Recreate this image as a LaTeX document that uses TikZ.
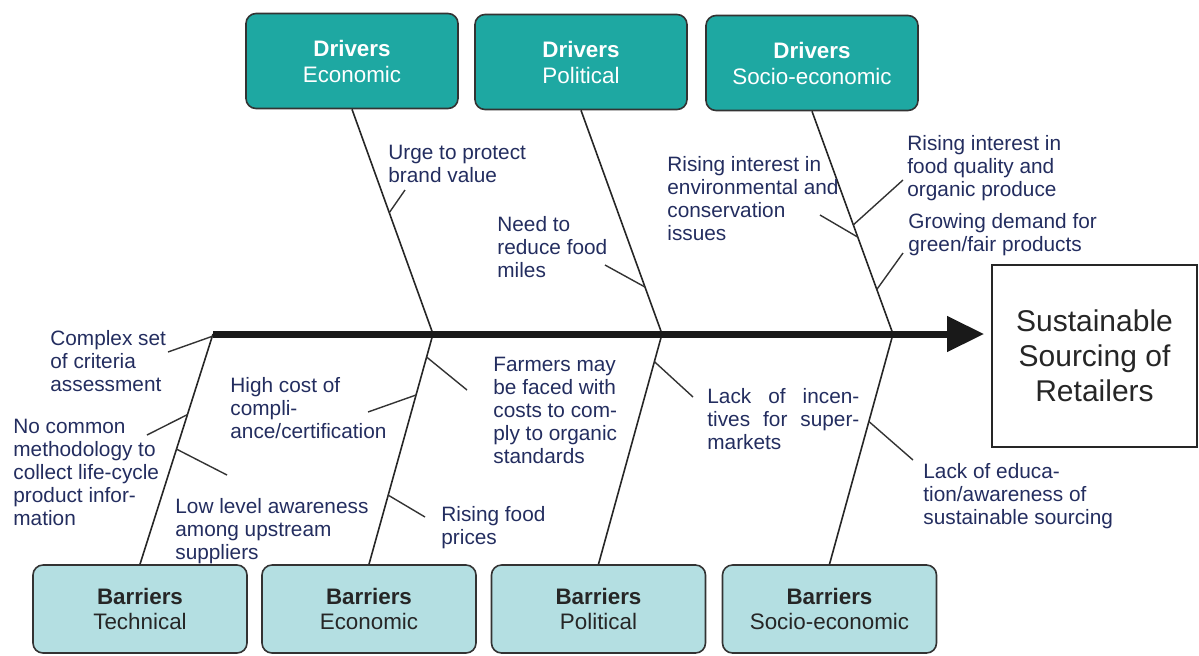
\documentclass[tikz,border=0pt]{standalone}
\usepackage{fontspec}
\setmainfont{Liberation Sans}
\usetikzlibrary{arrows.meta,calc}

\definecolor{drvteal}{RGB}{30,168,162}
\definecolor{barteal}{RGB}{180,223,226}
\definecolor{lbltext}{RGB}{35,45,95}

\begin{document}
\begin{tikzpicture}[x=0.5pt,y=-0.5pt,
  driver/.style={draw=black!80,fill=drvteal,rounded corners=5pt,line width=0.8pt,
    minimum width=106pt,minimum height=47.5pt,align=center,text=white,
    font=\fontsize{11.2}{13}\selectfont},
  barrier/.style={draw=black!80,fill=barteal,rounded corners=5pt,line width=0.8pt,
    minimum width=107pt,minimum height=44pt,align=center,text=black!85,
    font=\fontsize{11.2}{12.5}\selectfont},
  bone/.style={line width=0.8pt,black!85},
  twig/.style={line width=0.7pt,black!80},
  lbl/.style={anchor=base west,inner sep=0pt,align=left,text=lbltext,
    font=\fontsize{10.4}{11.4}\selectfont}]

\useasboundingbox (0,0) rectangle (1199,655);

% --- Riquadri in alto: drivers ---
\node[driver] (de) at (352,61) {\textbf{Drivers}\\Economic};
\node[driver] (dp) at (581,62) {\textbf{Drivers}\\Political};
\node[driver] (ds) at (812,63) {\textbf{Drivers}\\Socio-economic};

% --- Riquadri in basso: barriers ---
\node[barrier] (bt) at (140,609) {\textbf{Barriers}\\Technical};
\node[barrier] (be) at (369,609) {\textbf{Barriers}\\Economic};
\node[barrier] (bp) at (598.5,609) {\textbf{Barriers}\\Political};
\node[barrier] (bs) at (829.5,609) {\textbf{Barriers}\\Socio-economic};

% --- Effetto ---
\node[draw=black!85,line width=0.8pt,minimum width=102.5pt,minimum height=91pt,
  align=center,text=black!85,font=\fontsize{15}{17.5}\selectfont]
  (res) at (1094.5,356) {Sustainable\\Sourcing of\\Retailers};

% punti sulla spina
\coordinate (s0) at (213,334);
\coordinate (s1) at (433,334);
\coordinate (s2) at (662,334);
\coordinate (s3) at (893,334);

% --- Lische ---
\draw[bone] (de.south) -- (s1);
\draw[bone] (dp.south) -- (s2);
\draw[bone] (ds.south) -- (s3);
\draw[bone] (s0) -- (bt.north);
\draw[bone] (s1) -- (be.north);
\draw[bone] (s2) -- (bp.north);
\draw[bone] (s3) -- (bs.north);

% spina con freccia
\draw[line width=3.5pt,black!90,-{Triangle[length=18.5pt,width=17pt]},shorten >=3.5pt]
  (s0) -- (s0 -| res.west);

% --- Cause dei drivers ---
\coordinate (urge) at (405,190);
\coordinate (miles) at (605,265);
\coordinate (envir) at (820,215);
\coordinate (quality) at (903,180);
\coordinate (demand) at (903,253);
\draw[twig] ($(de.south)!0.46!(s1)$) -- (urge);
\draw[twig] ($(dp.south)!0.79!(s2)$) -- (miles);
\draw[twig] ($(ds.south)!0.565!(s3)$) -- (envir);
\draw[twig] ($(ds.south)!0.51!(s3)$) -- (quality);
\draw[twig] ($(ds.south)!0.80!(s3)$) -- (demand);

% (ancora = linea di base dell'ultima riga)
\node[lbl] (urgetxt) at (388,182) {Urge to protect\\brand value};
\node[lbl] (milestxt) at (497,277) {Need to\\reduce food\\miles};
\node[lbl] (envirtxt) at (667,240) {Rising interest in\\environmental and\\conservation\\issues};
\node[lbl] (qualitytxt) at (907,196) {Rising interest in\\food quality and\\organic produce};
\node[lbl] (demandtxt) at (908,251) {Growing demand for\\green/fair products};

% --- Cause delle barriers ---
\coordinate (complex) at (168,352);
\coordinate (common) at (147,435);
\coordinate (upstream) at (227,475);
\coordinate (farmers) at (467,390);
\coordinate (cost) at (368,412);
\coordinate (prices) at (425,517);
\coordinate (incent) at (693,397);
\coordinate (educ) at (913,460);
\draw[twig] ($(s0)!0.01!(bt.north)$) -- (complex);
\draw[twig] ($(s0)!0.35!(bt.north)$) -- (common);
\draw[twig] ($(s0)!0.50!(bt.north)$) -- (upstream);
\draw[twig] ($(s1)!0.10!(be.north)$) -- (farmers);
\draw[twig] ($(s1)!0.265!(be.north)$) -- (cost);
\draw[twig] ($(s1)!0.70!(be.north)$) -- (prices);
\draw[twig] ($(s2)!0.12!(bp.north)$) -- (incent);
\draw[twig] ($(s3)!0.38!(bs.north)$) -- (educ);

\node[lbl] (complextxt) at (50,391) {Complex set\\of criteria\\assessment};
\node[lbl] (commontxt) at (13,525) {No common\\methodology to\\collect life-cycle\\product infor-\\mation};
\node[lbl] (upstreamtxt) at (175,559) {Low level awareness\\among upstream\\suppliers};
\node[lbl] (costtxt) at (230,438) {High cost of\\compli-\\ance/certification};
\node[lbl] (farmerstxt) at (493,463) {Farmers may\\be faced with\\costs to com-\\ply to organic\\standards};
\node[lbl] (pricestxt) at (441,544) {Rising food\\prices};
\node[lbl] (incenttxt) at (707,449) {\makebox[76pt][s]{Lack of incen-}\\\makebox[76pt][s]{tives for super-}\\markets};
\node[lbl] (eductxt) at (923,524) {Lack of educa-\\tion/awareness of\\sustainable sourcing};

\end{tikzpicture}
\end{document}
